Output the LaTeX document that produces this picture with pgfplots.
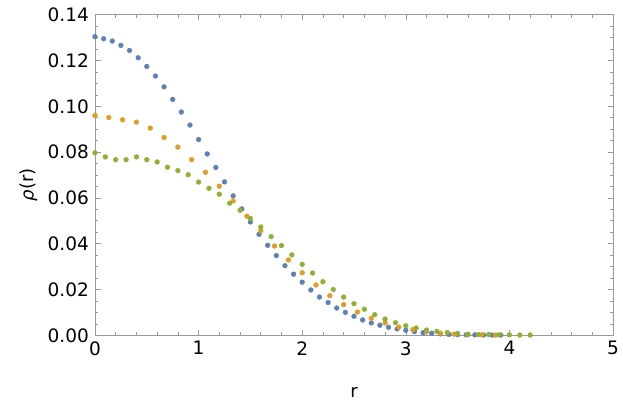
\documentclass[border=0pt]{standalone}
\usepackage{fontspec}
\setmainfont{DejaVu Sans}
\usepackage{pgfplots}
\pgfplotsset{compat=1.18}
\definecolor{mblue}{rgb}{0.368417,0.506779,0.709798}
\definecolor{morange}{rgb}{0.880722,0.611041,0.142051}
\definecolor{mgreen}{rgb}{0.560181,0.691569,0.194885}
\definecolor{frame}{gray}{0.6}
\begin{document}
\fontsize{18}{21}\selectfont
\begin{tikzpicture}
\useasboundingbox (-95pt,-81.7pt) rectangle (528pt,335.3pt);
\begin{axis}[at={(0,0)}, anchor=south west, scale only axis,
  width=518pt, height=320.6pt,
  xmin=0, xmax=5, ymin=0, ymax=0.14,
  xtick={0,1,2,3,4,5},
  ytick={0,0.02,0.04,0.06,0.08,0.10,0.12,0.14},
  minor x tick num=4, minor y tick num=3,
  tick align=inside,
  axis line style={frame},
  every tick/.style={frame, line width=0.6pt},
  major tick length=5.5pt, minor tick length=3pt,
  tick label style={font=\fontsize{18.5}{21}\selectfont, black},
  /pgf/number format/assume math mode=true,
  yticklabel style={/pgf/number format/.cd, fixed, fixed zerofill, precision=2},
  xticklabel style={/pgf/number format/.cd, fixed, precision=0},
  clip=false,
  xlabel={r}, ylabel={\textit{ρ}(r)},
  label style={font=\fontsize{18}{21}\selectfont},
  xlabel style={at={(axis description cs:0.5,0)}, anchor=center, yshift=-57pt},
  ylabel style={at={(axis description cs:-0.128,0.47)}, anchor=center},
  mark size=2.4pt,
]
\addplot[only marks, mark=*, mblue, mark options={draw=none, fill=mblue}] coordinates {
(0,0.1304) (0.0833,0.1295) (0.1667,0.1285) (0.25,0.1266) (0.3333,0.1244)
(0.4167,0.1212) (0.5,0.1174) (0.5833,0.1132) (0.6667,0.1085) (0.75,0.1030)
(0.8333,0.0975) (0.9167,0.0918) (1.0,0.0855) (1.0833,0.0792) (1.1667,0.0733)
(1.25,0.0670) (1.3333,0.0609) (1.4167,0.0552) (1.5,0.0495) (1.5833,0.0441)
(1.6667,0.0393) (1.75,0.0348) (1.8333,0.0304) (1.9167,0.0267) (2.0,0.0232)
(2.0833,0.0198) (2.1667,0.0167) (2.25,0.0143) (2.3333,0.0119) (2.4167,0.0100)
(2.5,0.0083) (2.5833,0.0067) (2.6667,0.0054) (2.75,0.0044) (2.8333,0.0035)
(2.9167,0.0028) (3.0,0.0022) (3.0833,0.0016) (3.1667,0.0011) (3.25,0.0009)
(3.3333,0.0006) (3.4167,0.0004) (3.5,0.0003) (3.5833,0.0002) (3.6667,0.0002)
(3.75,0.0001) (3.8333,0.0001) (3.9167,0.0001)
};
\addplot[only marks, mark=*, morange, mark options={draw=none, fill=morange}] coordinates {
(0,0.0960) (0.1333,0.0951) (0.2667,0.0941) (0.4,0.0931) (0.5333,0.0905)
(0.6667,0.0864) (0.8,0.0822) (0.9333,0.0767) (1.0667,0.0712) (1.2,0.0651)
(1.3333,0.0587) (1.4667,0.0520) (1.6,0.0456) (1.7333,0.0390) (1.8667,0.0329)
(2.0,0.0273) (2.1333,0.0220) (2.2667,0.0173) (2.4,0.0134) (2.5333,0.0102)
(2.6667,0.0074) (2.8,0.0054) (2.9333,0.0036) (3.0667,0.0025) (3.2,0.0016)
(3.3333,0.0009) (3.4667,0.0005) (3.6,0.0003) (3.7333,0.0002) (3.8667,0.0001)
};
\addplot[only marks, mark=*, mgreen, mark options={draw=none, fill=mgreen}] coordinates {
(0,0.0797) (0.1,0.0779) (0.2,0.0767) (0.3,0.0767) (0.4,0.0779)
(0.5,0.0767) (0.6,0.0757) (0.7,0.0734) (0.8,0.0719) (0.9,0.0701)
(1.0,0.0669) (1.1,0.0642) (1.2,0.0616) (1.3,0.0577) (1.4,0.0546)
(1.5,0.0510) (1.6,0.0473) (1.7,0.0431) (1.8,0.0392) (1.9,0.0351)
(2.0,0.0310) (2.1,0.0272) (2.2,0.0234) (2.3,0.0200) (2.4,0.0167)
(2.5,0.0138) (2.6,0.0114) (2.7,0.0090) (2.8,0.0071) (2.9,0.0055)
(3.0,0.0042) (3.1,0.0032) (3.2,0.0023) (3.3,0.0017) (3.4,0.0012)
(3.5,0.0008) (3.6,0.0005) (3.7,0.0003) (3.8,0.0003) (3.9,0.0002)
(4.0,0.0002) (4.1,0.0001) (4.2,0.0001)
};
\end{axis}
\end{tikzpicture}
\end{document}
